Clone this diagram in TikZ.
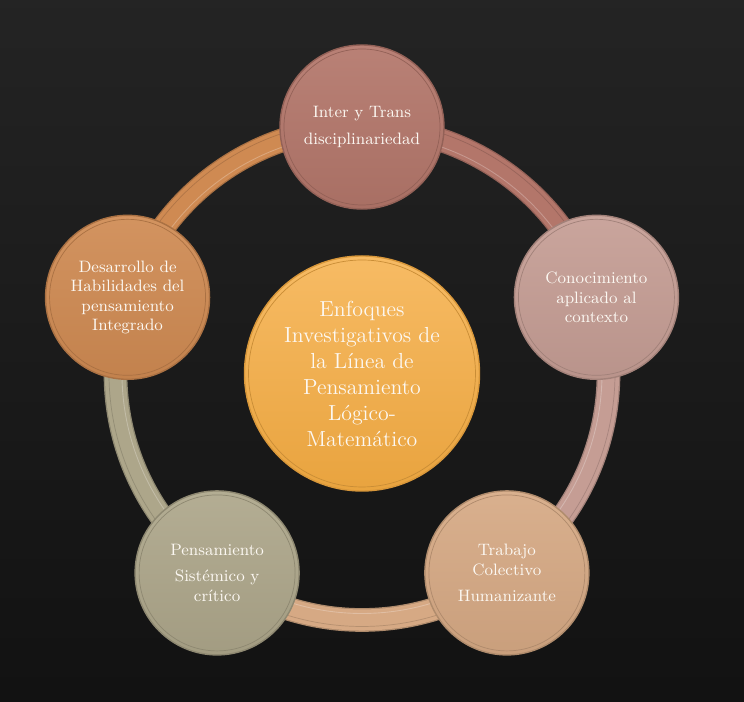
\documentclass[tikz,border=0pt]{standalone}
\usepackage{tikz}
\usetikzlibrary{backgrounds}
\definecolor{cTop}{HTML}{B3766A}
\definecolor{cConoc}{HTML}{C59D94}
\definecolor{cTrab}{HTML}{D6A984}
\definecolor{cPens}{HTML}{ADA68A}
\definecolor{cDesa}{HTML}{CF8A52}
\definecolor{cCentro}{HTML}{F5AC42}
\definecolor{letra}{HTML}{FCF8F2}

\begin{document}
\begin{tikzpicture}[
  tema/.style={circle, draw=#1!82!black, line width=0.8pt, top color=#1!92!white, bottom color=#1!94!black,
    minimum size=3.28cm, inner sep=0pt, align=center, text=letra, font=\fontsize{9.4}{11}\selectfont,
    path picture={\draw[#1!82!black, line width=0.4pt] (path picture bounding box.center) circle[radius=1.56cm];}},
  banda/.style={line width=13.5pt, draw=#1!82!black, postaction={draw=#1, line width=12pt}}]

\node [circle, draw=cCentro!88!black, line width=0.8pt, top color=cCentro!82!white, bottom color=cCentro!95!black,
  minimum size=4.7cm, inner sep=0pt, align=center, text=letra, font=\fontsize{12.4}{14.8}\selectfont,
  path picture={\draw[cCentro!82!black, line width=0.4pt] (path picture bounding box.center) circle[radius=2.27cm];}]
  (centro) at (0,0) {Enfoques\\Investigativos de\\la Línea de\\Pensamiento\\Lógico-\\Matemático};

\node [tema=cTop] (top) at (90:4.93) {Inter y Trans\\[4pt]disciplinariedad};
\node [tema=cConoc] (conoc) at (18:4.93) {Conocimiento\\aplicado al\\contexto};
\node [tema=cTrab] (trab) at (-54:4.93) {Trabajo\\Colectivo\\[4pt]Humanizante};
\node [tema=cPens] (pens) at (-126:4.93) {Pensamiento\\[4pt]Sistémico y\\crítico};
\node [tema=cDesa] (desa) at (162:4.93) {Desarrollo de\\Habilidades del\\pensamiento\\Integrado};

\begin{pgfonlayer}{background}
\shade [top color=black!86, bottom color=black!93] (-7.24,-6.57) rectangle (7.64,7.47);
\foreach \n/\s/\c in {top/90/cTop, conoc/18/cConoc, trab/-54/cTrab, pens/-126/cPens, desa/162/cDesa}{
  \draw[banda=\c] (\n.center) arc[start angle=\s, delta angle=-72, radius=4.93];
  \draw[\c!85!black, line width=0.4pt] ([shift={(\s:0.13)}]\n.center) arc[start angle=\s, delta angle=-72, radius=5.06];
  \draw[\c!75!white, line width=0.5pt] ([shift={({\s+180}:0.13)}]\n.center) arc[start angle=\s, delta angle=-72, radius=4.80];
}
\end{pgfonlayer}
\end{tikzpicture}
\end{document}
